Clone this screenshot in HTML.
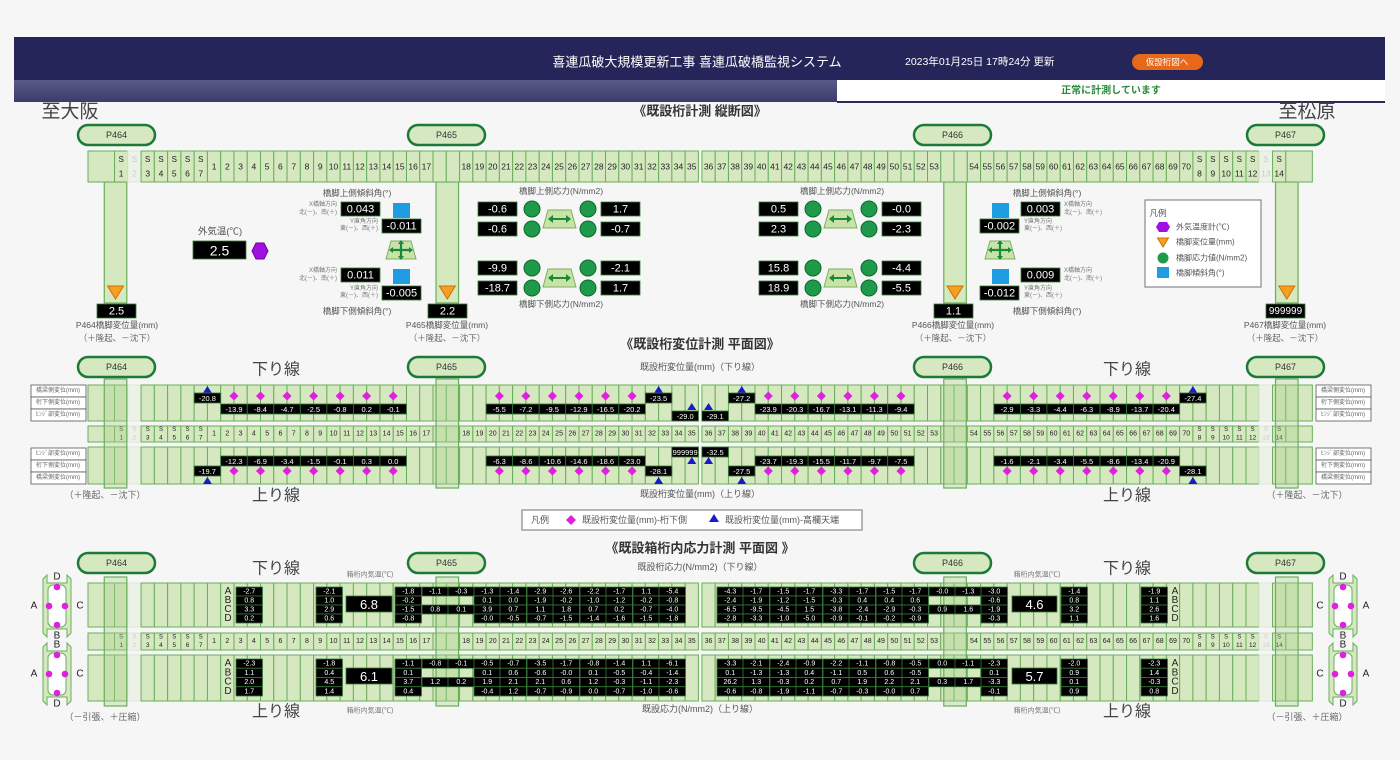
<!DOCTYPE html>
<html><head><meta charset="utf-8"><style>
html,body{margin:0;padding:0;width:1400px;height:760px;overflow:hidden;background:#f6f6f6}
svg{position:absolute;left:0;top:0}
</style></head><body>
<svg id="s" width="1400" height="760" xmlns="http://www.w3.org/2000/svg" font-family="'Liberation Sans','Noto Sans CJK JP',sans-serif"></svg>
<script>
let o='';
const F='#d5e8bf',L='#6aae5c',DG='#1c7a38';
function rect(x,y,w,h,f,s,sw,rx,extra){o+=`<rect x="${x}" y="${y}" width="${w}" height="${h}" fill="${f}" ${s?`stroke="${s}" stroke-width="${sw||1}"`:''} ${rx?`rx="${rx}"`:''} ${extra||''}/>`;}
function t(x,y,s,sz,f,w,a){o+=`<text x="${x}" y="${y}" font-size="${sz}" fill="${f||'#333'}" ${w?`font-weight="${w}"`:''} text-anchor="${a||'middle'}" dominant-baseline="central">${s}</text>`;}
function bb(x,y,w,h,s,sz){rect(x,y,w,h,'#000','#3a7a3a',0.8);t(x+w/2,y+h/2+0.5,s,sz,'#fff');}
function cx(k){return 88+k*13.27+(k>=46?3.5:0);}
const CW=13.27;
function tri(x,y,w,h,f,up){o+=up?`<polygon points="${x-w/2},${y+h} ${x+w/2},${y+h} ${x},${y}" fill="${f}"/>`:`<polygon points="${x-w/2},${y} ${x+w/2},${y} ${x},${y+h}" fill="${f}" stroke="#d07000" stroke-width="1"/>`;}
function dia(x,y,r){o+=`<polygon points="${x},${y-r} ${x+r},${y} ${x},${y+r} ${x-r},${y}" fill="#e020e0"/>`;}
// header
rect(14,37,1371,43,'#26255a');
o+=`<defs><linearGradient id="g" x1="0" y1="0" x2="0" y2="1"><stop offset="0" stop-color="#5a5a88"/><stop offset="1" stop-color="#3c3c6c"/></linearGradient></defs>`;
rect(14,80,823,22,'url(#g)');
rect(837,80,548,22,'#fff');rect(837,101,548,2,'#2a2a5a');
t(697,62,'喜連瓜破大規模更新工事 喜連瓜破橋監視システム',13,'#fff');
t(905,62,'2023年01月25日 17時24分 更新',10.5,'#fff',null,'start');
rect(1132,54,71,16,'#e8681a',null,0,8);t(1167,62,'仮設桁図へ',8.5,'#fff');
t(1111,91,'正常に計測しています',10,'#2a8a3a','bold');
t(70,112,'至大阪',19,'#444');t(1307,112,'至松原',19,'#444');
t(700,111,'《既設桁計測 縦断図》',13,'#333','bold');
t(700,344,'《既設桁変位計測 平面図》',13,'#333','bold');
t(700,548,'《既設箱桁内応力計測 平面図 》',13,'#333','bold');
function pill(x,y,s){rect(x,y,77,20,F,DG,2.5,10);t(x+38.5,y+10,s,9,'#333');}
function lab(k){if(k==2)return['S','1'];if(k==3)return['S','2'];if(k>=4&&k<=8)return['S',''+(k-1)];if(k>=9&&k<=25)return[''+(k-8)];if(k>=28&&k<=63)return[''+(k-10)];if(k>=66&&k<=82)return[''+(k-12)];if(k>=83&&k<=87)return['S',''+(k-75)];if(k==88)return['S','13'];if(k==89)return['S','14'];return null;}
function strip(y,h,mode){
 rect(cx(0),y,2*CW,h,F,L,1);
 for(let k=2;k<=89;k++){const f=(k==3||k==88);rect(cx(k),y,CW,h,f?'#edf2e8':F,f?'#dde8d5':L,1);
  if(mode){const l=lab(k);if(l){const c=f?'#ccc':'#222';const m=cx(k)+CW/2;
   if(l.length==2){t(m,y+h/2-(mode==1?7:4),l[0],mode==1?8:6,c);t(m,y+h/2+(mode==1?7:4),l[1],mode==1?8.5:6.5,c);}else t(m,y+h/2,l[0],mode==1?8.5:7,c);}}}
 rect(cx(90),y,2*CW,h,F,L,1);
}
const piers=[1,26,64,89];
// section 1
pill(78,125,'P464');pill(408,125,'P465');pill(914,125,'P466');pill(1247,125,'P467');
piers.forEach(k=>{rect(cx(k)+3,182,2*CW-4,121,F,L,1.2);tri(cx(k)+CW+1,286,16,13,'#f5a020',false);});
strip(151,31,1);
[[97,'2.5',117],[428,'2.2',447],[934,'1.1',953],[1266,'999999',1285]].forEach(([x,v,c],i)=>{bb(x,304,39,14,v,i==3?10:11);t(c,325,'P46'+(4+i)+'橋脚変位量(mm)',8.5,'#555');t(c,338,'（＋隆起、－沈下）',8.5,'#666');});
// outside temp
t(220,232,'外気温(℃)',9.5,'#555');bb(193,241,53,18,'2.5',14);
o+=`<polygon points="256,243 264,243 268,251 264,259 256,259 252,251" fill="#a010e0" stroke="#7000a0"/>`;
function tiltIcon(x,y){o+=`<polygon points="${x+5},${y} ${x+25},${y} ${x+30},${y+18} ${x},${y+18}" fill="#c8e2a8" stroke="#7ab060"/>`;
 const mx=x+15,my=y+9;o+=`<g stroke="#1a8a3a" stroke-width="2.2"><line x1="${mx-10}" y1="${my}" x2="${mx+10}" y2="${my}"/><line x1="${mx}" y1="${my-8}" x2="${mx}" y2="${my+8}"/></g>`;
 o+=`<g fill="#1a8a3a"><polygon points="${mx-12},${my} ${mx-8},${my-3} ${mx-8},${my+3}"/><polygon points="${mx+12},${my} ${mx+8},${my-3} ${mx+8},${my+3}"/><polygon points="${mx},${my-10} ${mx-3},${my-6} ${mx+3},${my-6}"/><polygon points="${mx},${my+10} ${mx-3},${my+6} ${mx+3},${my+6}"/></g>`;}
function tilt(bx1,bx2,sq,lx,anch,vals,lc){
 t(lc,193,'橋脚上側傾斜角(°)',8.5,'#555');t(lc,311,'橋脚下側傾斜角(°)',8.5,'#555');
 bb(bx1,202,39,14,vals[0],11);rect(sq,203,17,15,'#1e9ee0');bb(bx2,219,39,14,vals[1],11);
 bb(bx1,268,39,14,vals[2],11);rect(sq,269,17,15,'#1e9ee0');bb(bx2,286,39,14,vals[3],11);
 tiltIcon(sq-7,241);
 [[205,'X橋軸方向'],[213,'北(－)、南(＋)'],[222,'Y直角方向'],[229,'東(－)、西(＋)'],[271,'X橋軸方向'],[279,'北(－)、南(＋)'],[289,'Y直角方向'],[296,'東(－)、西(＋)']].forEach(([y,s],i)=>{const xo=(i%4<2)?lx[0]:lx[1];t(xo,y,s,6,'#777',null,anch);});
}
tilt(341,382,393,[337,378],'end',['0.043','-0.011','0.011','-0.005'],357);
tilt(1021,980,992,[1064,1024],'start',['0.003','-0.002','0.009','-0.012'],1047);
function stressIcon(x,y){o+=`<polygon points="${x+5},${y} ${x+28},${y} ${x+33},${y+18} ${x},${y+18}" fill="#c8e2a8" stroke="#7ab060"/><line x1="${x+8}" y1="${y+9}" x2="${x+25}" y2="${y+9}" stroke="#1a8a3a" stroke-width="2"/><polygon points="${x+5},${y+9} ${x+10},${y+5} ${x+10},${y+13}" fill="#1a8a3a"/><polygon points="${x+28},${y+9} ${x+23},${y+5} ${x+23},${y+13}" fill="#1a8a3a"/>`;}
function stress(x0,y0,v){bb(x0,y0,39,14,v[0],11);bb(x0,y0+20,39,14,v[1],11);
 o+=`<circle cx="${x0+54}" cy="${y0+7}" r="8" fill="#1f9a4a" stroke="#0a6a2a"/><circle cx="${x0+54}" cy="${y0+27}" r="8" fill="#1f9a4a" stroke="#0a6a2a"/><circle cx="${x0+110}" cy="${y0+7}" r="8" fill="#1f9a4a" stroke="#0a6a2a"/><circle cx="${x0+110}" cy="${y0+27}" r="8" fill="#1f9a4a" stroke="#0a6a2a"/>`;
 stressIcon(x0+65,y0+8);bb(x0+123,y0,39,14,v[2],11);bb(x0+123,y0+20,39,14,v[3],11);}
stress(478,202,['-0.6','-0.6','1.7','-0.7']);stress(478,261,['-9.9','-18.7','-2.1','1.7']);
stress(759,202,['0.5','2.3','-0.0','-2.3']);stress(759,261,['15.8','18.9','-4.4','-5.5']);
t(561,191,'橋脚上側応力(N/mm2)',8.5,'#555');t(561,304,'橋脚下側応力(N/mm2)',8.5,'#555');
t(842,191,'橋脚上側応力(N/mm2)',8.5,'#555');t(842,304,'橋脚下側応力(N/mm2)',8.5,'#555');
// legend
rect(1145,200,116,87,'#fff','#888',1.2);t(1158,213,'凡例',8.5,'#555');
o+=`<polygon points="1159,222 1167,222 1170,227 1167,232 1159,232 1156,227" fill="#a010e0"/>`;tri(1163,238,11,9,'#f5a020',false);
o+=`<circle cx="1163" cy="258" r="5.5" fill="#1f9a4a"/>`;rect(1157,267,12,11,'#1e9ee0');
[['外気温度計(℃)',227],['橋脚変位量(mm)',242],['橋脚応力値(N/mm2)',258],['橋脚傾斜角(°)',273]].forEach(([s,y])=>t(1176,y,s,8,'#555',null,'start'));
// section 2
pill(78,357,'P464');pill(408,357,'P465');pill(914,357,'P466');pill(1247,357,'P467');
strip(385,36,0);strip(426,16,2);strip(447,37,0);
piers.forEach(k=>rect(cx(k)+3,379,2*CW-4,109,'rgba(170,210,140,0.35)','#6aae5c',1.2));
t(276,370,'下り線',16,'#444');t(276,496,'上り線',16,'#444');t(1127,370,'下り線',16,'#444');t(1127,496,'上り線',16,'#444');
t(700,367,'既設桁変位量(mm)（下り線）',9,'#555');t(700,494,'既設桁変位量(mm)（上り線）',9,'#555');
t(105,495,'（＋隆起、－沈下）',9,'#666');t(1307,495,'（＋隆起、－沈下）',9,'#666');
function rl(x,ys,arr){arr.forEach((s,i)=>{rect(x,ys+i*12,55,12,'#fff','#555',0.8);t(x+27,ys+i*12+6,s,6,'#666');});}
const rlab=['橋梁側変位(mm)','桁下側変位(mm)','ﾋﾝｼﾞ部変位(mm)'];
rl(31,385,rlab);rl(31,448,[...rlab].reverse());rl(1316,385,rlab);rl(1316,448,[...rlab].reverse());
function vbox(k,y,s){bb(cx(k),y,2*CW,10,s,7.5);}
function topRow(k0,vals){vals.forEach((v,i)=>{const k=k0+2*i;dia(cx(k)+CW,396,4.5);vbox(k,404,v);});}
function botRow(k0,vals){vals.forEach((v,i)=>{const k=k0+2*i;dia(cx(k)+CW,471,4.5);vbox(k,456,v);});}
function tTop(k,s){tri(cx(k)+CW,386,9,7,'#1a1acc',true);vbox(k,393,s);}
function tBot(k,s){tri(cx(k)+CW,477,9,7,'#1a1acc',true);vbox(k,466,s);}
topRow(10,['-13.9','-8.4','-4.7','-2.5','-0.8','0.2','-0.1']);tTop(8,'-20.8');
topRow(30,['-5.5','-7.2','-9.5','-12.9','-16.5','-20.2']);tTop(42,'-23.5');
vbox(44,411,'-29.0');tri(cx(45)+CW/2,403,9,7,'#1a1acc',true);vbox(46,411,'-29.1');tri(cx(46)+CW/2,403,9,7,'#1a1acc',true);
tTop(48,'-27.2');topRow(50,['-23.9','-20.3','-16.7','-13.1','-11.3','-9.4']);
topRow(68,['-2.9','-3.3','-4.4','-6.3','-8.9','-13.7','-20.4']);tTop(82,'-27.4');
botRow(10,['-12.3','-6.9','-3.4','-1.5','-0.1','0.3','0.0']);tBot(8,'-19.7');
botRow(30,['-6.3','-8.6','-10.6','-14.6','-18.6','-23.0']);tBot(42,'-28.1');
vbox(44,447,'999999');tri(cx(45)+CW/2,457,9,7,'#1a1acc',true);vbox(46,447,'-32.5');tri(cx(46)+CW/2,457,9,7,'#1a1acc',true);
tBot(48,'-27.5');botRow(50,['-23.7','-19.3','-15.5','-11.7','-9.7','-7.5']);
botRow(68,['-1.6','-2.1','-3.4','-5.5','-8.6','-13.4','-20.9']);tBot(82,'-28.1');
rect(522,510,340,20,'#fff','#888',1.2);t(540,520,'凡例',9,'#555');dia(571,520,5);t(582,520,'既設桁変位量(mm)-桁下側',9,'#555',null,'start');
tri(714,514,10,8,'#1a1acc',true);t(725,520,'既設桁変位量(mm)-高欄天端',9,'#555',null,'start');
// section 3
pill(78,553,'P464');pill(408,553,'P465');pill(914,553,'P466');pill(1247,553,'P467');
strip(583,44,0);strip(633,17,2);strip(655,46,0);
piers.forEach(k=>rect(cx(k)+3,577,2*CW-4,129,'rgba(170,210,140,0.35)','#6aae5c',1.2));
t(276,569,'下り線',16,'#444');t(276,712,'上り線',16,'#444');t(1127,569,'下り線',16,'#444');t(1127,712,'上り線',16,'#444');
t(370,575,'箱桁内気温(℃)',7,'#777');t(370,711,'箱桁内気温(℃)',7,'#777');t(1037,575,'箱桁内気温(℃)',7,'#777');t(1037,711,'箱桁内気温(℃)',7,'#777');
t(700,567,'既設桁応力(N/mm2)（下り線）',9,'#555');t(700,709,'既設応力(N/mm2)（上り線）',9,'#555');
t(105,717,'（－引張、＋圧縮）',9,'#666');t(1307,717,'（－引張、＋圧縮）',9,'#666');
function col(x,y0,rh,v){v.forEach((s,i)=>{if(s!==null&&s!=='')bb(x,y0+i*rh,26.5,rh,s,7);});}
function abcd(x,y0,rh){['A','B','C','D'].forEach((s,i)=>t(x,y0+i*rh+rh/2,s,10,'#222'));}
const topC=[[236,['-2.7','0.8','3.3','0.2']],[316,['-2.1','1.0','2.9','0.6']],[395,['-1.8','-0.2','-1.5','-0.8']],[422,['-1.1',null,'0.8',null]],[448,['-0.3',null,'0.1',null]],
[474,['-1.3','0.1','3.9','-0.0']],[500,['-1.4','0.0','0.7','-0.5']],[527,['-2.9','-1.9','1.1','-0.7']],[553,['-2.6','-0.2','1.8','-1.5']],[580,['-2.2','-1.0','0.7','-1.4']],[606,['-1.7','-1.2','0.2','-1.6']],[633,['1.1','-0.2','-0.7','-1.5']],[659,['-5.4','-0.8','-4.0','-1.8']],
[717,['-4.3','-2.4','-6.5','-2.8']],[743,['-1.7','-1.9','-9.5','-3.3']],[770,['-1.5','-1.2','-4.5','-1.0']],[796,['-1.7','-1.5','1.5','-5.0']],[823,['-3.3','-0.3','-3.8','-0.9']],[849,['-1.7','0.4','-2.4','-0.1']],[876,['-1.5','0.4','-2.9','-0.2']],[902,['-1.7','0.6','-0.3','-0.9']],
[929,['-0.0',null,'0.9',null]],[955,['-1.3',null,'1.6',null]],[981,['-3.0','-0.6','-1.9','-0.3']],[1061,['-1.4','0.8','3.2','1.1']],[1141,['-1.9','1.1','2.6','1.6']]];
const botC=[[236,['-2.3','1.1','2.0','1.7']],[316,['-1.8','0.4','4.5','1.4']],[395,['-1.1','0.1','3.7','0.4']],[422,['-0.8',null,'1.2',null]],[448,['-0.1',null,'0.2',null]],
[474,['-0.5','0.1','1.9','-0.4']],[500,['-0.7','0.6','2.1','1.2']],[527,['-3.5','-0.6','2.1','-0.7']],[553,['-1.7','-0.0','0.6','-0.9']],[580,['-0.8','0.1','1.2','0.0']],[606,['-1.4','-0.5','-0.3','-0.7']],[633,['1.1','-0.4','-1.1','-1.0']],[659,['-6.1','-1.4','-2.3','-0.6']],
[717,['-3.3','0.1','26.2','-0.6']],[743,['-2.1','-1.3','1.3','-0.8']],[770,['-2.4','-1.3','-0.3','-1.9']],[796,['-0.9','0.4','0.2','-1.1']],[823,['-2.2','-1.1','0.7','-0.7']],[849,['-1.1','0.5','1.9','-0.3']],[876,['-0.8','0.6','2.2','-0.0']],[902,['-0.5','-0.5','2.1','0.7']],
[929,['0.0',null,'0.3',null]],[955,['-1.1',null,'1.7',null]],[981,['-2.3','0.1','-3.3','-0.1']],[1061,['-2.0','0.9','0.1','0.9']],[1141,['-2.3','1.4','-0.3','0.8']]];
topC.forEach(([x,v])=>col(x,587,9,v));botC.forEach(([x,v])=>col(x,659,9.25,v));
abcd(228,587,9);abcd(1175,587,9);abcd(228,659,9.25);abcd(1175,659,9.25);
bb(346,596,46,16,'6.8',13);bb(346,668,46,16,'6.1',13);bb(1012,596,45,16,'4.6',13);bb(1012,668,45,16,'5.7',13);
function xsec(x,y,lab,right){ // x left of body, y top
 o+=`<path d="M${x},${y+4} L${x+4},${y} L${x+4},${y+8} L${x+24},${y+8} L${x+24},${y} L${x+28},${y+4} L${x+28},${y+58} L${x+24},${y+62} L${x+24},${y+54} L${x+4},${y+54} L${x+4},${y+62} L${x},${y+58} Z" fill="${F}" stroke="#6aae5c"/>`;
 rect(x+5,y+10,18,42,'#fff','#6aae5c',1,5);
 o+=`<g fill="#e020e0"><circle cx="${x+14}" cy="${y+12}" r="3.3"/><circle cx="${x+14}" cy="${y+50}" r="3.3"/><circle cx="${x+6}" cy="${y+31}" r="3.3"/><circle cx="${x+22}" cy="${y+31}" r="3.3"/></g>`;
 t(x+14,y+2,lab[0],10,'#222');t(x+14,y+61,lab[1],10,'#222');t(x-9,y+31,lab[2],10,'#222');t(x+37,y+31,lab[3],10,'#222');}
xsec(43,575,['D','B','A','C']);xsec(43,643,['B','D','A','C']);
xsec(1329,575,['D','B','C','A']);xsec(1329,643,['B','D','C','A']);
document.getElementById('s').innerHTML=o;
</script>
</body></html>
